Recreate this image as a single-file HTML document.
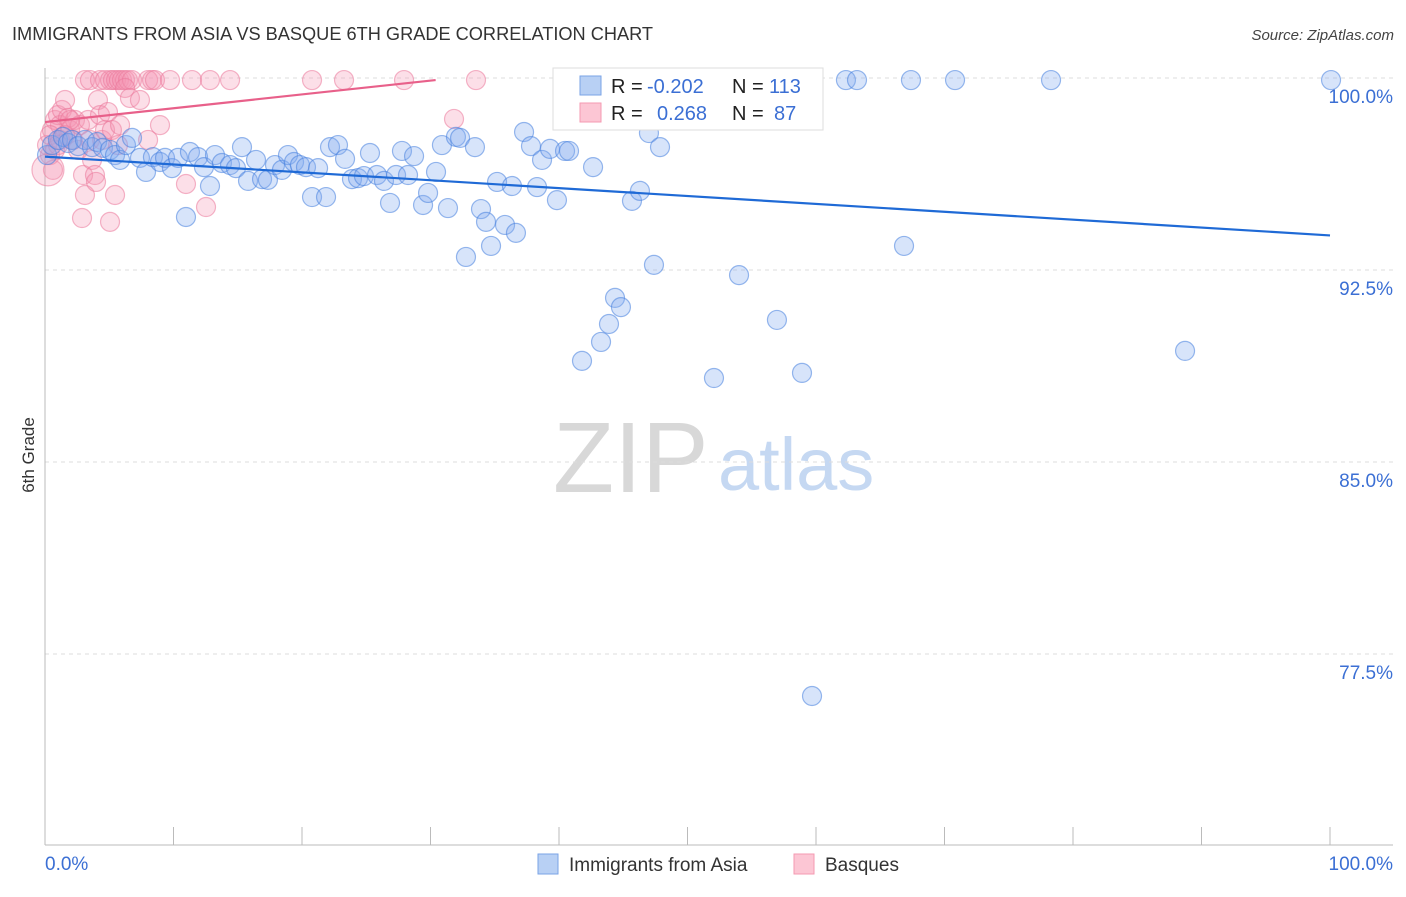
<!DOCTYPE html>
<html><head><meta charset="utf-8"><style>
body{margin:0;background:#fff;font-family:"Liberation Sans",sans-serif;}
svg text{font-family:"Liberation Sans",sans-serif;}
</style></head><body>
<svg id="chart" width="1406" height="892" viewBox="0 0 1406 892" xmlns="http://www.w3.org/2000/svg">
<text x="12" y="40" font-size="18.2" fill="#333">IMMIGRANTS FROM ASIA VS BASQUE 6TH GRADE CORRELATION CHART</text>
<text x="1394" y="40" font-size="15" fill="#444" text-anchor="end" font-style="italic">Source: ZipAtlas.com</text>
<g>
<text x="553" y="492" font-size="100" fill="#d8d8d8" font-family="Liberation Serif,serif">ZIP</text>
<text x="718" y="490" font-size="74" fill="#c5d8f2">atlas</text>
</g>
<g id="grid"></g>
<g id="axes"></g>
<g id="pink"></g>
<g id="blue"></g>
<g id="lines"></g>
<text transform="translate(34,455) rotate(-90)" font-size="17" fill="#333" text-anchor="middle">6th Grade</text>
<text x="45" y="870" font-size="19" fill="#3b6fd4">0.0%</text>
<text x="1393" y="870" font-size="19" fill="#3b6fd4" text-anchor="end">100.0%</text>
<g>
<rect x="553" y="68" width="270" height="62" fill="#fff" stroke="#ddd"/>
<rect x="580" y="76" width="21" height="19" fill="#b8d0f4" stroke="#7aa3e6"/>
<rect x="580" y="103" width="21" height="19" fill="#fcc6d4" stroke="#f49ab2"/>
<text x="611" y="93" font-size="20" fill="#222">R =</text>
<text x="647" y="93" font-size="20" fill="#3b6fd4">-0.202</text>
<text x="732" y="93" font-size="20" fill="#222">N =</text>
<text x="769" y="93" font-size="20" fill="#3b6fd4">113</text>
<text x="611" y="120" font-size="20" fill="#222">R =</text>
<text x="657" y="120" font-size="20" fill="#3b6fd4">0.268</text>
<text x="732" y="120" font-size="20" fill="#222">N =</text>
<text x="774" y="120" font-size="20" fill="#3b6fd4">87</text>
</g>
<g>
<rect x="538" y="854" width="20" height="20" fill="#b8d0f4" stroke="#7aa3e6"/>
<text x="569" y="871" font-size="19" fill="#333">Immigrants from Asia</text>
<rect x="794" y="854" width="20" height="20" fill="#fcc6d4" stroke="#f49ab2"/>
<text x="825" y="871" font-size="19" fill="#333">Basques</text>
</g>
</svg>
<script>
const yTicks=[100,92.5,85,77.5];
const yTickLabels=["100.0%","92.5%","85.0%","77.5%"];
const xTicks=[0,10,20,30,40,50,60,70,80,90,100];
const bluePx=[[47,155],[52,145],[58,140],[63,137],[68,143],[72,140],[78,146],[85,140],[92,147],[97,142],[103,148],[110,150],[115,155],[120,160],[126,145],[132,138],[140,158],[146,172],[153,157],[160,162],[165,158],[172,168],[178,158],[186,217],[190,152],[198,157],[204,167],[210,186],[215,155],[222,163],[230,165],[236,168],[242,147],[248,181],[256,160],[262,179],[268,180],[275,165],[282,170],[288,155],[294,162],[300,165],[306,167],[312,197],[318,168],[326,197],[330,147],[338,145],[345,159],[352,179],[358,178],[364,176],[370,153],[377,175],[384,181],[390,203],[396,175],[402,151],[408,175],[414,156],[423,205],[428,193],[436,172],[442,145],[448,208],[456,137],[460,138],[466,257],[475,147],[481,209],[486,222],[491,246],[497,182],[505,225],[512,186],[516,233],[524,132],[531,146],[537,187],[542,160],[550,149],[557,200],[565,151],[569,151],[582,361],[593,167],[601,342],[609,324],[615,298],[621,307],[632,201],[640,191],[649,133],[654,265],[660,147],[628,106],[620,82],[680,85],[690,120],[714,378],[723,80],[730,80],[739,275],[777,320],[802,373],[812,696],[846,80],[857,80],[904,246],[911,80],[955,80],[1051,80],[1185,351],[1331,80]];
const pinkPx=[[85,80],[90,80],[100,80],[105,80],[110,80],[113,80],[116,80],[119,80],[122,80],[125,80],[128,80],[132,80],[148,80],[152,80],[155,80],[170,80],[192,80],[210,80],[230,80],[312,80],[344,80],[404,80],[476,80],[50,155],[52,130],[55,120],[58,115],[60,125],[62,110],[65,100],[68,118],[70,130],[73,140],[75,120],[78,150],[80,125],[83,175],[85,195],[82,218],[88,120],[90,140],[92,160],[95,175],[96,182],[98,100],[100,115],[102,140],[105,130],[108,112],[110,222],[112,130],[115,195],[118,145],[120,125],[125,88],[130,98],[140,100],[148,140],[160,125],[186,184],[206,207],[454,119],[47,145],[50,135],[55,150],[60,140],[65,135],[70,120],[53,170],[58,145],[48,170]];
const blueX=bluePx.map(p=>+((p[0]-45)/12.85).toFixed(2));
const blueY=bluePx.map(p=>+(100-(p[1]-78)/25.6).toFixed(2));
const pinkX=pinkPx.map(p=>+((p[0]-45)/12.85).toFixed(2));
const pinkY=pinkPx.map(p=>+(100-(p[1]-78)/25.6).toFixed(2));
const blueTrend=[[0,96.93],[100,93.85]];
const pinkTrend=[[0,98.28],[30.4,99.92]];
const NS="http://www.w3.org/2000/svg";
const sx=x=>45+x*12.85, sy=v=>78+(100-v)*25.6;
function mk(tag,attrs,parent){const e=document.createElementNS(NS,tag);for(const k in attrs)e.setAttribute(k,attrs[k]);document.getElementById(parent).appendChild(e);return e;}
yTicks.forEach((t,i)=>{
 const l=mk('line',{x1:45,x2:1393,y1:sy(t),y2:sy(t),stroke:'#ddd','stroke-dasharray':'4,4'},'grid');
 
 
 const tx=mk('text',{x:1393,y:sy(t)+25,'font-size':19,fill:'#3b6fd4','text-anchor':'end'},'grid');
 tx.textContent=yTickLabels[i];
 
 
});
const ax=mk('line',{x1:45,x2:1393,y1:845,y2:845,stroke:'#bbb'},'axes');


const ay=mk('line',{x1:45,x2:45,y1:68,y2:845,stroke:'#bbb'},'axes');


xTicks.forEach(t=>{const l=mk('line',{x1:sx(t),x2:sx(t),y1:827,y2:845,stroke:'#bbb'},'axes');
 
 });
pinkX.forEach((x,i)=>{const c=mk('circle',{cx:sx(x),cy:sy(pinkY[i]),r:i===pinkX.length-1?16:9.5,fill:'rgba(245,150,178,0.3)',stroke:'rgba(235,120,155,0.55)','stroke-width':1.2},'pink');
 
 });
blueX.forEach((x,i)=>{const c=mk('circle',{cx:sx(x),cy:sy(blueY[i]),r:9.5,fill:'rgba(130,172,238,0.32)',stroke:'rgba(70,128,222,0.55)','stroke-width':1.2},'blue');
 
 });
const bl=mk('line',{x1:sx(blueTrend[0][0]),y1:sy(blueTrend[0][1]),x2:sx(blueTrend[1][0]),y2:sy(blueTrend[1][1]),stroke:'#1f6ad6','stroke-width':2.2},'lines');


const pl=mk('line',{x1:sx(pinkTrend[0][0]),y1:sy(pinkTrend[0][1]),x2:sx(pinkTrend[1][0]),y2:sy(pinkTrend[1][1]),stroke:'#e8608a','stroke-width':2.2},'lines');


</script>
</body></html>
